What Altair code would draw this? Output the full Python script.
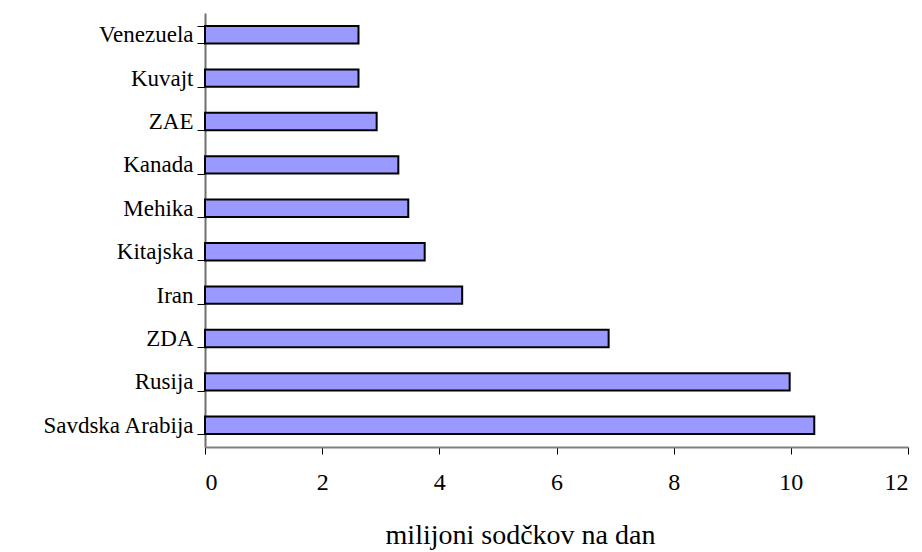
import altair as alt
import pandas as pd

# Oil production by country, million barrels per day
countries = ["Venezuela", "Kuvajt", "ZAE", "Kanada", "Mehika",
             "Kitajska", "Iran", "ZDA", "Rusija", "Savdska Arabija"]
values = [2.62, 2.62, 2.93, 3.30, 3.47, 3.75, 4.39, 6.89, 9.98, 10.40]
x_ticks = [0, 2, 4, 6, 8, 10, 12]

df = pd.DataFrame({"country": countries, "value": values})

FONT = "'Liberation Serif', 'Times New Roman', serif"

chart = (
    alt.Chart(df)
    .mark_bar(color="#9999FF", stroke="#000000", strokeWidth=2)
    .encode(
        x=alt.X(
            "value:Q",
            scale=alt.Scale(domain=[0, 12], nice=False, zero=True),
            axis=alt.Axis(
                values=x_ticks,
                title="milijoni sodčkov na dan",
                grid=False,
                domainColor="#808080",
                domainWidth=2,
                tickColor="#000000",
                tickSize=7,
                tickWidth=1,
                labelFont=FONT,
                labelFontSize=24,
                labelPadding=16,
                titleFont=FONT,
                titleFontSize=28,
                titleX=315,
                titleY=96,
                titleAlign="center",
                titleBaseline="alphabetic",
            ),
        ),
        y=alt.Y(
            "country:N",
            sort=countries,
            scale=alt.Scale(paddingInner=0.6, paddingOuter=0.3),
            axis=alt.Axis(
                title=None,
                grid=False,
                tickBand="extent",
                domainColor="#707070",
                domainWidth=2,
                tickColor="#000000",
                tickSize=8,
                tickWidth=1,
                labelFont=FONT,
                labelFontSize=23,
                labelPadding=4,
                labelLimit=300,
            ),
        ),
    )
    .properties(
        width=703,
        height=434,
        autosize=alt.AutoSizeParams(type="none"),
        padding={"left": 205, "top": 13, "right": 14, "bottom": 105},
        background="#ffffff",
    )
    .configure(font=FONT)
    .configure_view(stroke=None)
    .configure_axis(
        labelFont=FONT,
        labelColor="#000000",
        titleFont=FONT,
        titleColor="#000000",
        titleFontWeight="normal",
    )
)

chart.save("out.html", embed_options={"renderer": "svg", "actions": False})
